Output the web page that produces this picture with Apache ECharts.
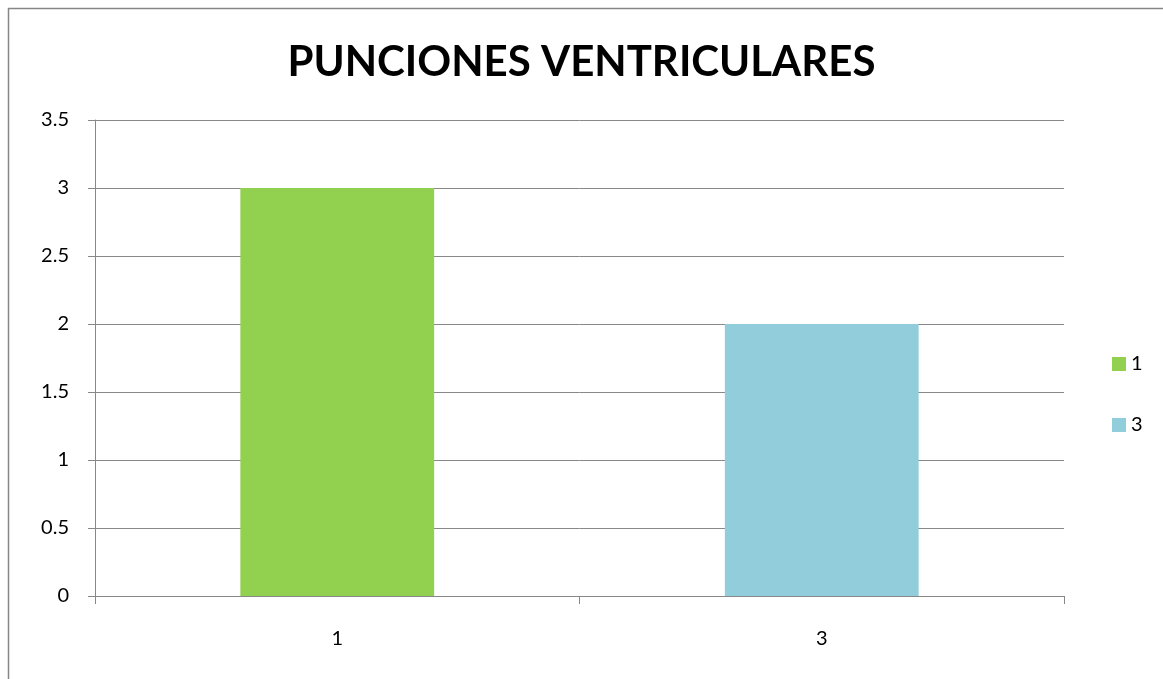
<!DOCTYPE html>
<html><head><meta charset="utf-8">
<script src="https://cdn.jsdelivr.net/npm/echarts@6/dist/echarts.min.js"></script>
<style>html,body{margin:0;padding:0;background:#fff}#c{width:1163px;height:679px}</style>
</head><body><div id="c"></div>
<script>
const title = 'PUNCIONES VENTRICULARES';
const categories = ['1', '3'];
const seriesNames = ['1', '3'];
const seriesValues = [[3, '-'], ['-', 2]];
const colors = ['#92D050', '#92CDDC'];
const chart = echarts.init(document.getElementById('c'));
chart.setOption({
  animation: false,
  backgroundColor: '#fff',
  graphic: [{type: 'rect', shape: {x: 8.5, y: 8.5, width: 1200, height: 700}, style: {fill: 'none', stroke: '#868686', lineWidth: 1.5}}],
  title: {text: title, left: 'center', top: 36, textStyle: {fontFamily: 'Lato', fontWeight: 'bold', fontSize: 42, color: '#000'}},
  legend: {orient: 'vertical', left: 1107, top: 349, itemWidth: 14, itemHeight: 14, itemGap: 41, icon: 'rect',
    textStyle: {fontFamily: 'Lato', fontSize: 20, color: '#000'}, data: seriesNames},
  grid: {left: 95, right: 99, top: 120, bottom: 83, containLabel: false},
  xAxis: {type: 'category', data: categories,
    axisLine: {lineStyle: {color: '#888', width: 1}}, axisTick: {show: true, length: 8, lineStyle: {color: '#888'}},
    axisLabel: {fontFamily: 'Lato', fontSize: 20, color: '#000', margin: 33}},
  yAxis: {type: 'value', min: 0, max: 3.5, interval: 0.5,
    axisLine: {show: true, lineStyle: {color: '#888'}}, axisTick: {show: true, length: 7, lineStyle: {color: '#888'}},
    splitLine: {lineStyle: {color: '#888', width: 1}},
    axisLabel: {fontFamily: 'Lato', fontSize: 20, color: '#000', margin: 26}},
  series: seriesNames.map((n, i) => ({name: n, type: 'bar', data: seriesValues[i], barWidth: '40%', barGap: '-100%', itemStyle: {color: colors[i]}}))
});
</script></body></html>
